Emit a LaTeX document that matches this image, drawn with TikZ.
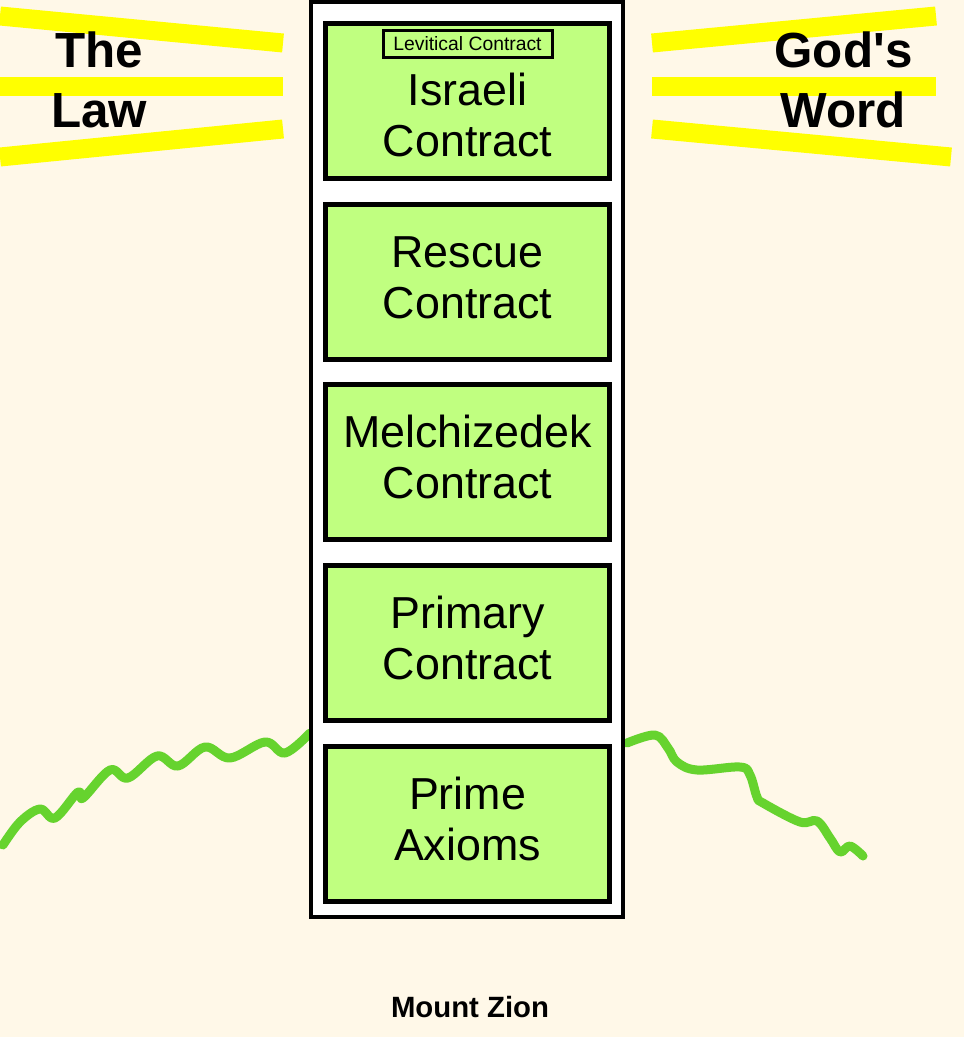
\documentclass[tikz,border=0pt]{standalone}
\usepackage{fontspec}
\setmainfont{Liberation Sans}
\usetikzlibrary{positioning}
\definecolor{cream}{HTML}{FFF8E8}
\definecolor{leaf}{HTML}{C0FF80}
\definecolor{vine}{HTML}{66D32E}
\definecolor{ray}{HTML}{FFFF00}
\tikzset{
  tower/.style={rectangle,draw=black,fill=white,line width=3pt,
    minimum width=234pt,minimum height=686.25pt,inner sep=0pt},
  contract/.style={rectangle,draw=black,fill=leaf,line width=3.75pt,
    minimum width=213pt,minimum height=116.25pt,inner sep=0pt,align=center,
    text height=54.75pt,text depth=0pt,
    font=\fontsize{33.6}{38.25}\selectfont},
  tag/.style={rectangle,draw=black,fill=leaf,line width=2.25pt,
    minimum width=126.75pt,minimum height=20.25pt,inner sep=0pt,
    font=\fontsize{14.5}{17}\selectfont},
  title/.style={align=center,anchor=base,font=\bfseries\fontsize{37}{45}\selectfont},
  beam/.style={draw=ray,line width=14.25pt},
  ridge/.style={draw=vine,line width=6.75pt,line cap=round,line join=round},
}

\begin{document}
\begin{tikzpicture}[x=0.75pt,y=-0.75pt,node distance=15.47pt]
  \fill[cream] (0,0) rectangle (964,1037);
  \useasboundingbox (0,0) rectangle (964,1037);
  % rays of light
  \draw[beam] (0,16) -- (283,43);
  \draw[beam] (0,87) -- (283,87);
  \draw[beam] (0,157) -- (283,129);
  \draw[beam] (652,43) -- (936,16);
  \draw[beam] (652,87) -- (936,87);
  \draw[beam] (652,129) -- (951,157);
  \node[title] (law) at (99,128) {The\\Law};
  \node[title] (word) at (843.5,128) {God\textquotesingle s\\Word};
  % the mountain
  \draw[ridge] plot[smooth,tension=0.6] coordinates {(3,845) (20,822) (40,809)
    (55,818) (78,792) (83,798) (110,770) (128,778) (157,756) (178,766)
    (205,747) (230,758) (265,742) (285,753) (310,733)};
  \draw[ridge] plot[smooth,tension=0.6] coordinates {(627,743) (655,735)
    (668,748) (677,762) (697,770) (740,767) (750,775) (757,797) (763,803)
    (800,822) (817,821) (830,838) (840,852) (850,846) (863,856)};
  % the contracts
  \node[tower] (column) at (467,459.5) {};
  \node[contract,text height=84pt] (israeli) at (467.5,101) {Israeli\\Contract};
  \node[contract,below=of israeli] (rescue) {Rescue\\Contract};
  \node[contract,below=of rescue] (melchizedek) {Melchizedek\\Contract};
  \node[contract,below=of melchizedek] (primary) {Primary\\Contract};
  \node[contract,below=of primary] (axioms) {Prime\\Axioms};
  \node[tag,below=6pt of israeli.north] (levitical) {Levitical Contract};
  \node[anchor=base,font=\bfseries\fontsize{22}{26}\selectfont] (zion)
    at (470,1017) {Mount Zion};
\end{tikzpicture}
\end{document}
